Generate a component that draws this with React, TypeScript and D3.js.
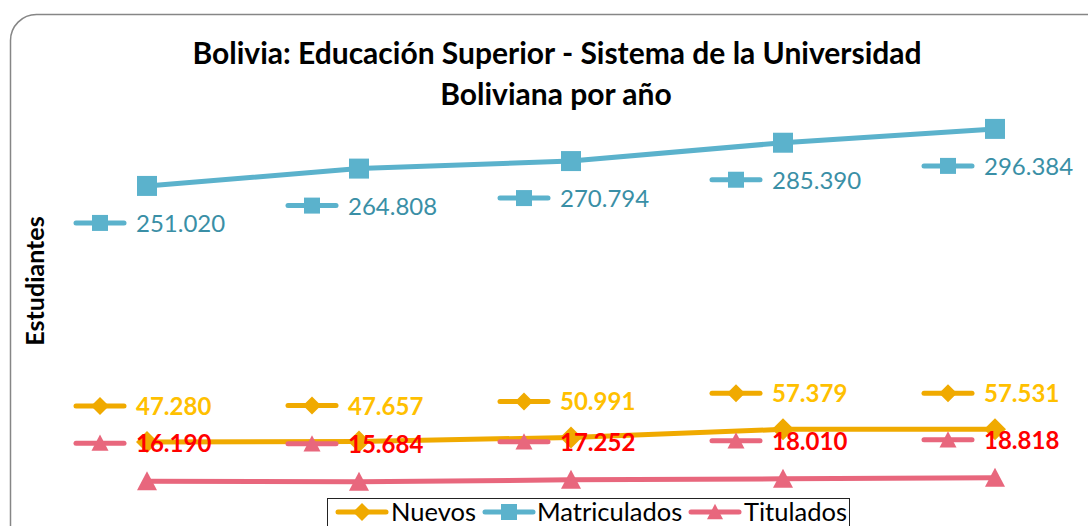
import React from "react";
import * as d3 from "d3";

const years = ["2007", "2008", "2009", "2010", "2011"];
const nuevos = [47280, 47657, 50991, 57379, 57531];
const matriculados = [251020, 264808, 270794, 285390, 296384];
const titulados = [16190, 15684, 17252, 18010, 18818];
const seriesNames = ["Nuevos", "Matriculados", "Titulados"];

const W = 1088;
const H = 526;
const FONT = "Lato, 'Open Sans', sans-serif";

type Sym = "diamond" | "square" | "triangle";

const fmt = (v: number) => d3.format(",")(v).replace(/,/g, ".");

function Marker({ x, y, sym, color, size }: { x: number; y: number; sym: Sym; color: string; size: number }) {
  // size = approximate width in px
  let p = "";
  const h = size / 2;
  if (sym === "diamond") {
    p = `M0,${-h}L${h},0L0,${h}L${-h},0Z`;
  } else if (sym === "square") {
    p = `M${-h},${-h}H${h}V${h}H${-h}Z`;
  } else {
    const th = size * 0.9;
    p = `M0,${-th / 2 - 1}L${h},${th / 2}L${-h},${th / 2}Z`;
  }
  return <path d={p} transform={`translate(${x},${y})`} fill={color} />;
}

function Key({ x, y, sym, color, len = 53, msize = 16 }: { x: number; y: number; sym: Sym; color: string; len?: number; msize?: number }) {
  return (
    <g>
      <line x1={x - len / 2 + 2.5} x2={x + len / 2 - 2.5} y1={y} y2={y} stroke={color} strokeWidth={5} strokeLinecap="round" />
      <Marker x={x} y={y} sym={sym} color={color} size={msize} />
    </g>
  );
}

export default function App() {
  const x = d3.scalePoint<string>().domain(years).range([147, 995]);
  const y = d3.scaleLinear().domain([0, 350000]).range([501.5, 61.5]);
  const line = d3
    .line<number>()
    .x((_, i) => x(years[i]) as number)
    .y((d) => y(d));

  const series = [
    { name: seriesNames[0], data: nuevos, sym: "diamond" as Sym, color: "#F0AA00", label: "#FFC000", bold: true, off: -36, msize: 22, ksize: 18 },
    { name: seriesNames[1], data: matriculados, sym: "square" as Sym, color: "#5BB2CC", label: "#3A8FA6", bold: false, off: 37, msize: 20, ksize: 16 },
    { name: seriesNames[2], data: titulados, sym: "triangle" as Sym, color: "#E8677D", label: "#FF0000", bold: true, off: -38, msize: 20, ksize: 17 },
  ];

  const legendItems = [
    { sym: "diamond" as Sym, color: "#F0AA00", kx: 362, tx: 391 },
    { sym: "square" as Sym, color: "#5BB2CC", kx: 509, tx: 537 },
    { sym: "triangle" as Sym, color: "#E8677D", kx: 715, tx: 744 },
  ];

  return (
    <div style={{ position: "fixed", left: 0, top: 0, width: W, height: H, overflow: "hidden", background: "#fff" }}>
      <svg width={W} height={H} style={{ display: "block" }}>
        <rect x={10.5} y={14.5} width={W + 40} height={H + 40} rx={26} ry={26} fill="#fff" stroke="#868686" strokeWidth={1.5} />
        <text x={557} y={64} textAnchor="middle" fontFamily={FONT} fontWeight="bold" fontSize={30} fill="#000">
          Bolivia: Educación Superior - Sistema de la Universidad
        </text>
        <text x={556} y={105} textAnchor="middle" fontFamily={FONT} fontWeight="bold" fontSize={30} fill="#000">
          Boliviana por año
        </text>
        <text transform="translate(44,281) rotate(-90)" textAnchor="middle" fontFamily={FONT} fontWeight="bold" fontSize={25} fill="#000">
          Estudiantes
        </text>

        {series.map((s) => (
          <g key={s.name}>
            <path d={line(s.data) || ""} fill="none" stroke={s.color} strokeWidth={5} strokeLinejoin="round" />
            {s.data.map((v, i) => (
              <Marker key={i} x={x(years[i]) as number} y={y(v)} sym={s.sym} color={s.color} size={s.msize} />
            ))}
          </g>
        ))}

        {series.map((s) => (
          <g key={s.name + "lbl"}>
            {s.data.map((v, i) => {
              const px = x(years[i]) as number;
              const py = y(v) + s.off;
              return (
                <g key={i}>
                  <Key x={px - 47} y={py} sym={s.sym} color={s.color} msize={s.ksize} />
                  <text x={px - 11} y={py + 9} fontFamily={FONT} fontWeight={s.bold ? "bold" : "normal"} fontSize={24} fill={s.label}>
                    {fmt(v)}
                  </text>
                </g>
              );
            })}
          </g>
        ))}

        <rect x={327.5} y={498.5} width={522} height={40} fill="#fff" stroke="#222" strokeWidth={1} />
        {legendItems.map((it, i) => (
          <g key={i}>
            <Key x={it.kx} y={512} sym={it.sym} color={it.color} msize={it.sym === "diamond" ? 18 : 16} />
            <text x={it.tx} y={521} fontFamily={FONT} fontSize={25.5} fill="#000">
              {seriesNames[i]}
            </text>
          </g>
        ))}
      </svg>
    </div>
  );
}
